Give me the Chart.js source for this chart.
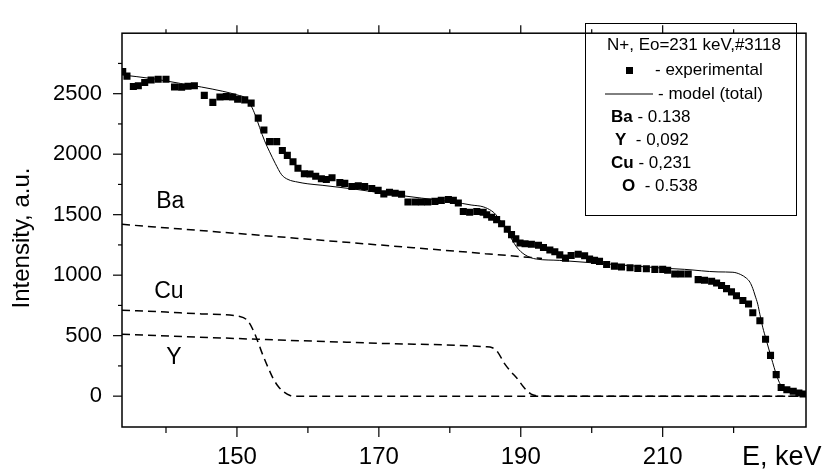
<!DOCTYPE html>
<html>
<head>
<meta charset="utf-8">
<script src="https://cdn.jsdelivr.net/npm/chart.js@4.4.0/dist/chart.umd.min.js"></script>
<style>
html, body { margin: 0; padding: 0; background: #fff; }
</style>
</head>
<body>
<canvas id="rbsChart" width="834" height="472"></canvas>
<script>
// experimental spectrum (energy keV, intensity a.u.)
const expE = [133.9, 134.5, 135.4, 136.1, 137.0, 137.9, 138.9, 140.0, 141.2, 142.2, 143.1, 144.0,
    145.4, 146.6, 147.6, 148.5, 149.4, 150.1, 151.1, 152.0, 153.0, 153.8, 154.6, 155.6, 156.4,
    157.1, 157.9, 158.6, 159.5, 160.3, 161.1, 161.9, 162.6, 163.4, 164.5, 165.2, 166.2, 167.1,
    168.0, 169.0, 169.9, 170.7, 171.5, 172.3, 173.2, 174.1, 175.1, 176.0, 176.9, 177.9, 178.8,
    179.8, 180.5, 181.2, 181.9, 182.8, 183.8, 184.7, 185.2, 185.9, 186.6, 187.3, 188.1, 188.7,
    189.3, 189.9, 190.6, 191.5, 192.5, 193.2, 194.1, 194.8, 195.5, 196.3, 197.1, 198.1, 199.0,
    199.7, 200.4, 201.1, 202.1, 203.2, 204.2, 205.4, 206.5, 207.7, 208.9, 210.0, 210.7, 211.7,
    212.6, 213.6, 215.0, 215.9, 216.9, 217.6, 218.3, 219.0, 219.7, 220.4, 221.3, 222.1, 222.7,
    223.7, 224.5, 225.2, 226.0, 226.7, 227.5, 228.4, 229.2, 229.8];
const expI = [2683, 2645, 2560, 2566, 2592, 2613, 2619, 2619, 2555, 2553, 2561, 2566,
    2486, 2428, 2473, 2476, 2473, 2454, 2449, 2422, 2298, 2200, 2104, 2104, 2030,
    1990, 1937, 1884, 1839, 1836, 1817, 1797, 1791, 1805, 1765, 1759, 1733, 1738,
    1733, 1717, 1701, 1672, 1685, 1677, 1669, 1605, 1605, 1605, 1605, 1610, 1618,
    1626, 1618, 1597, 1526, 1520, 1526, 1520, 1499, 1478, 1459, 1425, 1380, 1335,
    1300, 1266, 1260, 1255, 1247, 1228, 1208, 1194, 1168, 1141, 1162, 1173, 1160,
    1133, 1122, 1114, 1088, 1075, 1067, 1061, 1056, 1053, 1048, 1048, 1040, 1009,
    1009, 1009, 963, 958, 950, 935, 915, 889, 862, 830, 790, 762, 690,
    623, 470, 337, 178, 72, 53, 40, 26, 18];

// model (total)
const modelE = [133.8, 138, 142, 145, 148, 150, 151.3, 152, 152.6, 153.2, 153.9, 154.6, 155.4,
    156.3, 157.2, 158.6, 160, 162, 166.6, 171.3, 176, 180.5, 183, 184.7, 185.9, 186.5, 187,
    187.6, 188.2, 188.8, 189.4, 190, 190.6, 191.4, 192.2, 195.5, 199.2, 205, 210, 213.1, 217.8,
    219.9, 221, 221.8, 222.3, 222.7, 223, 223.4, 223.7, 224.1, 224.6, 225.1, 225.5, 225.9,
    226.3, 226.6, 227, 227.6, 228.4, 230.2];
const modelI = [2655, 2625, 2585, 2555, 2520, 2490, 2460, 2400, 2320, 2220, 2110, 2020, 1924,
    1830, 1791, 1769, 1755, 1743, 1711, 1672, 1637, 1605, 1580, 1565, 1531, 1500, 1459,
    1410, 1353, 1290, 1234, 1195, 1168, 1145, 1133, 1122, 1106, 1080, 1058, 1048, 1027,
    1024, 1005, 975, 942, 890, 836, 760, 676, 570, 464, 360, 279, 200,
    133, 95, 66, 48, 38, 24];

// partial contributions (dashed)
const baE = [133.8, 150, 170, 185, 193];
const baI = [1420, 1345, 1250, 1178, 1138];
const cuE = [133.8, 140, 145, 150.4, 151.6, 152.5, 153.1, 153.7, 154.4, 155.1, 155.8, 156.5, 157.5, 158.5, 230.2];
const cuI = [711, 695, 680, 658, 618, 517, 425, 332, 235, 146, 82, 40, 6, 0, 0];
const yE = [133.8, 153, 170, 185, 186, 186.8, 187.6, 188.5, 189.5, 190.4, 191.4, 192.5, 194, 230.2];
const yI = [512, 470, 437, 408, 400, 360, 279, 210, 146, 75, 19, 2, 0, 0];

// ticks
const xTicks = [140, 150, 160, 170, 180, 190, 200, 210, 220];
const xLabels = [150, 170, 190, 210];
const yTicks = [0, 250, 500, 750, 1000, 1250, 1500, 1750, 2000, 2250, 2500, 2750];
const yLabels = [0, 500, 1000, 1500, 2000, 2500];

const FONT = '"Liberation Sans", Arial, Helvetica, sans-serif';

const pts = (xs, ys) => xs.map((v, i) => ({ x: v, y: ys[i] }));

const dashed = (data) => ({
    data,
    showLine: true,
    borderColor: '#000',
    borderWidth: 1.5,
    borderDash: [8, 5],
    pointRadius: 0,
    cubicInterpolationMode: 'monotone',
});

const curveLabels = [
    { text: 'Ba', x: 140.6, y: 1608 },
    { text: 'Cu', x: 140.4, y: 864 },
    { text: 'Y', x: 141.1, y: 318 },
];

const legendRows = [
    { bold: 'Ba', rest: ' - 0.138', x: 611 },
    { bold: 'Y', rest: '  - 0,092', x: 615 },
    { bold: 'Cu', rest: ' - 0,231', x: 611 },
    { bold: 'O', rest: '  - 0.538', x: 622 },
];

const framePlugin = {
    id: 'frame',
    afterDraw(chart) {
        const { ctx, chartArea: a, scales: { x, y } } = chart;
        ctx.save();
        ctx.strokeStyle = '#000';
        ctx.fillStyle = '#000';

        const line = (x1, y1, x2, y2) => {
            ctx.beginPath();
            ctx.moveTo(x1, y1);
            ctx.lineTo(x2, y2);
            ctx.stroke();
        };

        ctx.lineWidth = 1.5;
        ctx.strokeRect(a.left, a.top, a.right - a.left, a.bottom - a.top);

        ctx.lineWidth = 1.2;
        xTicks.forEach(v => {
            const px = x.getPixelForValue(v);
            const major = xLabels.includes(v);
            line(px, a.bottom, px, a.bottom + (major ? 10 : 6));
            line(px, a.top, px, a.top - (major ? 8 : 4));
        });
        yTicks.forEach(v => {
            const py = y.getPixelForValue(v);
            const major = yLabels.includes(v);
            line(a.left - (major ? 9 : 4), py, a.left, py);
        });

        // axis titles
        ctx.textBaseline = 'middle';
        ctx.textAlign = 'center';
        ctx.font = '24px ' + FONT;
        ctx.save();
        ctx.translate(22, 238);
        ctx.rotate(-Math.PI / 2);
        ctx.fillText('Intensity, a.u.', 0, 0);
        ctx.restore();

        ctx.textAlign = 'left';
        ctx.font = '27px ' + FONT;
        ctx.fillText('E, keV', 742, 458);

        // curve labels
        ctx.textAlign = 'center';
        ctx.font = '23px ' + FONT;
        curveLabels.forEach(l => {
            ctx.fillText(l.text, x.getPixelForValue(l.x), y.getPixelForValue(l.y));
        });

        // legend box
        ctx.lineWidth = 1;
        ctx.strokeRect(585.5, 23.5, 211, 192);
        ctx.textAlign = 'left';
        ctx.font = '17px ' + FONT;
        ctx.fillText('N+, Eo=231 keV,#3118', 607, 45);
        ctx.fillRect(626, 67, 7, 7);
        ctx.fillText('- experimental', 655, 70);
        line(605, 94, 653, 94);
        ctx.fillText('- model (total)', 658, 94);
        legendRows.forEach((r, i) => {
            const ly = 117 + i * 23;
            ctx.font = 'bold 17px ' + FONT;
            ctx.fillText(r.bold, r.x, ly);
            const w = ctx.measureText(r.bold).width;
            ctx.font = '17px ' + FONT;
            ctx.fillText(r.rest, r.x + w, ly);
        });
        ctx.restore();
    },
};

new Chart(document.getElementById('rbsChart'), {
    type: 'scatter',
    data: {
        datasets: [
            dashed(pts(baE, baI)),
            dashed(pts(cuE, cuI)),
            dashed(pts(yE, yI)),
            {
                data: pts(modelE, modelI),
                showLine: true,
                borderColor: '#000',
                borderWidth: 1,
                pointRadius: 0,
                cubicInterpolationMode: 'monotone',
            },
            {
                data: pts(expE, expI),
                showLine: false,
                pointStyle: 'rect',
                pointRadius: 5,
                backgroundColor: '#000',
                borderWidth: 0,
            },
        ],
    },
    options: {
        responsive: false,
        animation: false,
        layout: { padding: { left: 0, right: 28, top: 18, bottom: 0 } },
        plugins: {
            legend: { display: false },
            tooltip: { enabled: false },
        },
        scales: {
            x: {
                type: 'linear',
                min: 133.8,
                max: 230.2,
                afterFit: s => { s.height = 45; },
                afterBuildTicks: s => { s.ticks = xTicks.map(v => ({ value: v })); },
                grid: { display: false, drawTicks: false },
                border: { display: false },
                ticks: {
                    autoSkip: false,
                    maxRotation: 0,
                    padding: 16,
                    color: '#000',
                    font: { family: FONT, size: 24 },
                    callback: v => xLabels.includes(v) ? String(v) : '',
                },
            },
            y: {
                min: -255,
                max: 3000,
                afterFit: s => { s.width = 122; },
                afterBuildTicks: s => { s.ticks = yTicks.map(v => ({ value: v })); },
                grid: { display: false, drawTicks: false },
                border: { display: false },
                ticks: {
                    autoSkip: false,
                    padding: 20,
                    color: '#000',
                    font: { family: FONT, size: 22 },
                    callback: v => yLabels.includes(v) ? String(v) : '',
                },
            },
        },
    },
    plugins: [framePlugin],
});
</script>
</body>
</html>
